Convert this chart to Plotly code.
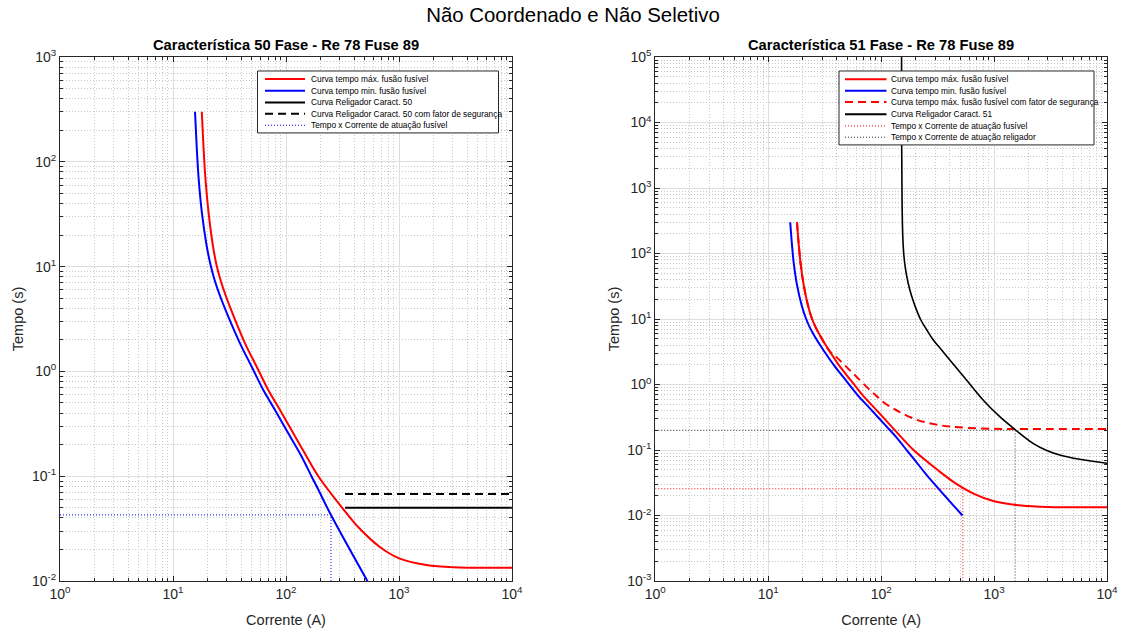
import plotly.graph_objects as go

# ---------------- data ----------------
# Fuse 89 - maximum melting time curve (A, s)
fuse_max_I = [17.98, 18.58, 19.35, 20.61, 22.50, 24.27, 26.33, 29.15, 34.52, 43.37, 55.05,
              69.71, 88.49, 116.0, 152.5, 194.5, 317.0, 446.0, 672.0, 1003, 1745,
              3010, 10000]
fuse_max_t = [300, 144.6, 70.0, 33.2, 16.08, 10.36, 7.45, 5.36, 3.33, 1.854, 1.109,
              0.6645, 0.4281, 0.2566, 0.1535, 0.0989, 0.0494, 0.03184, 0.02125,
              0.01646, 0.01421, 0.01351, 0.01339]
# Fuse 89 - minimum melting time curve
fuse_min_I = [15.66, 16.18, 16.85, 17.98, 19.80, 21.51, 23.34, 25.90, 30.86, 39.17, 49.70,
              62.98, 79.91, 104.8, 137.7, 168.8, 193.9, 250.1, 525]
fuse_min_t = [300, 144.6, 70.0, 33.2, 16.08, 10.36, 7.45, 5.36, 3.33, 1.854, 1.109,
              0.6645, 0.4281, 0.2566, 0.1535, 0.0989, 0.0738, 0.0426, 0.0100]
# maximum melting time with safety factor
fuse_max_sf_I = [17.98, 18.58, 19.35, 20.61, 22.50, 24.27, 26.33, 29.15, 34.52, 40, 50, 60,
                 79.43, 90, 104.2, 125, 146, 206, 300, 405, 600, 1000, 1525, 3000, 10000]
fuse_max_sf_t = [300, 144.6, 70.0, 33.2, 16.08, 10.36, 7.45, 5.36, 3.33, 2.64, 1.81, 1.33,
                 0.824, 0.68, 0.54, 0.44, 0.38, 0.29, 0.246, 0.228, 0.217, 0.211, 0.2095,
                 0.209, 0.209]
# recloser characteristic 50 (definite time)
rel50_I = [333, 10000]
rel50_t = [0.05, 0.05]
rel50_sf_t = [0.0675, 0.0675]
# recloser characteristic 51 (inverse time)
rel51_I = [151.6, 151.9, 153.1, 155.3, 158.8, 164.8, 173.4, 185.0, 200.8, 224.6, 253.8,
           289.7, 343.1, 405.5, 570.0, 799.1, 1123, 1525, 2214, 2927, 3815, 5733, 10000]
rel51_t = [100000, 5405, 656, 191.6, 94.9, 56.0, 35.4, 23.2, 15.3, 9.65, 6.80, 4.78, 3.36,
           2.366, 1.171, 0.580, 0.3224, 0.2070, 0.1265, 0.0983, 0.0839, 0.0721, 0.0626]
# operating points (time x current)
op50_fuse_I = [1, 250, 250]
op50_fuse_t = [0.0427, 0.0427, 0.01]
op51_fuse_I = [1, 529, 529]
op51_fuse_t = [0.0256, 0.0256, 0.001]
op51_rel_I = [1, 1535, 1535]
op51_rel_t = [0.2, 0.2, 0.001]

main_title = "Não Coordenado e Não Seletivo"
title_50 = "Característica 50 Fase - Re 78 Fuse 89"
title_51 = "Característica 51 Fase - Re 78 Fuse 89"
x_label = "Corrente (A)"
y_label = "Tempo (s)"
leg_50 = ["Curva tempo máx. fusão fusível", "Curva tempo min. fusão fusível",
          "Curva Religador Caract. 50", "Curva Religador Caract. 50 com fator de segurança",
          "Tempo x Corrente de atuação fusível"]
leg_51 = ["Curva tempo máx. fusão fusível", "Curva tempo min. fusão fusível",
          "Curva tempo máx. fusão fusível com fator de segurança", "Curva Religador Caract. 51",
          "Tempo x Corrente de atuação fusível", "Tempo x Corrente de atuação religador"]

# ---------------- layout geometry ----------------
W, H = 1133, 633
ML, MR, MT, MB = 60, 26, 57, 51.5
PW, PH = W - ML - MR, H - MT - MB


def px(x):
    return (x - ML) / PW


def py(y):
    return (H - MB - y) / PH


FONT = "Liberation Sans, Arial, Helvetica, sans-serif"
RED, BLUE, BLACK = "#ff0000", "#0000ff", "#000000"
DOT = "1px,2px"
DASH = "8px,5px"

fig = go.Figure()


def line(x, y, xa, ya, color, width, dash="solid", name="", shape="spline"):
    fig.add_trace(go.Scatter(x=x, y=y, xaxis=xa, yaxis=ya, mode="lines", name=name,
                             showlegend=False, hoverinfo="x+y",
                             line=dict(color=color, width=width, dash=dash, shape=shape,
                                       smoothing=1.0)))


# left subplot (characteristic 50)
line(op50_fuse_I, op50_fuse_t, "x", "y", BLUE, 1, DOT, leg_50[4], "linear")
line(fuse_max_I, fuse_max_t, "x", "y", RED, 2, "solid", leg_50[0])
line(fuse_min_I, fuse_min_t, "x", "y", BLUE, 2, "solid", leg_50[1])
line(rel50_I, rel50_t, "x", "y", BLACK, 2, "solid", leg_50[2], "linear")
line(rel50_I, rel50_sf_t, "x", "y", BLACK, 2, DASH, leg_50[3], "linear")

# right subplot (characteristic 51)
line(op51_fuse_I, op51_fuse_t, "x2", "y2", RED, 1, DOT, leg_51[4], "linear")
line(op51_rel_I, op51_rel_t, "x2", "y2", "#333333", 1, DOT, leg_51[5], "linear")
line(fuse_max_I, fuse_max_t, "x2", "y2", RED, 2, "solid", leg_51[0])
line(fuse_min_I, fuse_min_t, "x2", "y2", BLUE, 2, "solid", leg_51[1])
line(fuse_max_sf_I, fuse_max_sf_t, "x2", "y2", RED, 2, DASH, leg_51[2])
line(rel51_I, rel51_t, "x2", "y2", BLACK, 1.6, "solid", leg_51[3])


def ticks(lo, hi):
    return [10.0 ** k for k in range(lo, hi + 1)], [f"10<sup>{k}</sup>" for k in range(lo, hi + 1)]


def axis(lo, hi, domain, title, anchor, standoff):
    tv, tt = ticks(lo, hi)
    return dict(type="log", range=[lo, hi], domain=domain, anchor=anchor,
                tickmode="array", tickvals=tv, ticktext=tt,
                showline=True, linecolor="#262626", linewidth=1, mirror="allticks",
                ticks="inside", ticklen=5, tickcolor="#262626",
                showgrid=True, gridcolor="#dedede", gridwidth=1, zeroline=False,
                tickfont=dict(family=FONT, size=14, color="#262626"),
                minor=dict(dtick="D1", ticks="inside", ticklen=3, tickcolor="#262626",
                           showgrid=True, gridcolor="#c8c8c8", griddash=DOT, gridwidth=1),
                title=dict(text=title, standoff=standoff,
                           font=dict(family=FONT, size=14.5, color="#262626")),
                automargin=False)


xd1 = [0, px(512)]
xd2 = [px(655.3), 1]
fig.update_layout(
    width=W, height=H,
    margin=dict(l=ML, r=MR, t=MT, b=MB),
    paper_bgcolor="white", plot_bgcolor="white",
    font=dict(family=FONT, color="#262626"),
    xaxis=axis(0, 4, xd1, x_label, "y", 14),
    yaxis=axis(-2, 3, [0, 1], y_label, "x", 4),
    xaxis2=axis(0, 4, xd2, x_label, "y2", 14),
    yaxis2=axis(-3, 5, [0, 1], y_label, "x2", 4),
    title=dict(text=main_title, x=573 / W, xanchor="center", xref="container",
               y=1 - 15 / H, yanchor="middle", yref="container",
               font=dict(family=FONT, size=20.4, color="#000000")),
    showlegend=False,
)

# subplot titles
for txt, xc in [(title_50, (60 + 512) / 2), (title_51, (655.3 + 1107) / 2)]:
    fig.add_annotation(text=f"<b>{txt}</b>", xref="paper", yref="paper", x=px(xc), y=py(45),
                       xanchor="center", yanchor="middle", showarrow=False,
                       font=dict(family=FONT, size=14.7, color="#000000"))


# MATLAB-style legend boxes
def legend_box(x0, x1, y0, y1, sx0, sx1, tx, rows, labels, styles):
    fig.add_shape(type="rect", xref="paper", yref="paper", x0=px(x0), x1=px(x1),
                  y0=py(y1), y1=py(y0), fillcolor="white",
                  line=dict(color="#262626", width=1), layer="above")
    for yc, lab, (col, wid, dsh) in zip(rows, labels, styles):
        fig.add_shape(type="line", xref="paper", yref="paper", x0=px(sx0), x1=px(sx1),
                      y0=py(yc), y1=py(yc), line=dict(color=col, width=wid, dash=dsh),
                      layer="above")
        fig.add_annotation(text=lab, xref="paper", yref="paper", x=px(tx), y=py(yc),
                           xanchor="left", yanchor="middle", showarrow=False,
                           font=dict(family=FONT, size=8.35, color="#000000"))


legend_box(257.5, 498.5, 71, 133, 265, 305, 308.5, [79, 90.8, 102.5, 113.8, 125.3], leg_50,
           [(RED, 2, "solid"), (BLUE, 2, "solid"), (BLACK, 2, "solid"), (BLACK, 2, DASH),
            (BLUE, 1, DOT)])
legend_box(839, 1094, 71, 145, 845, 886.5, 889, [79.3, 90.7, 102, 114.3, 126, 137.3], leg_51,
           [(RED, 2, "solid"), (BLUE, 2, "solid"), (RED, 2, DASH), (BLACK, 2, "solid"),
            (RED, 1, DOT), ("#333333", 1, DOT)])

fig.write_html("out.html", config={"displayModeBar": False},
               post_script="document.body.style.margin='0';document.body.style.overflow='hidden';")
